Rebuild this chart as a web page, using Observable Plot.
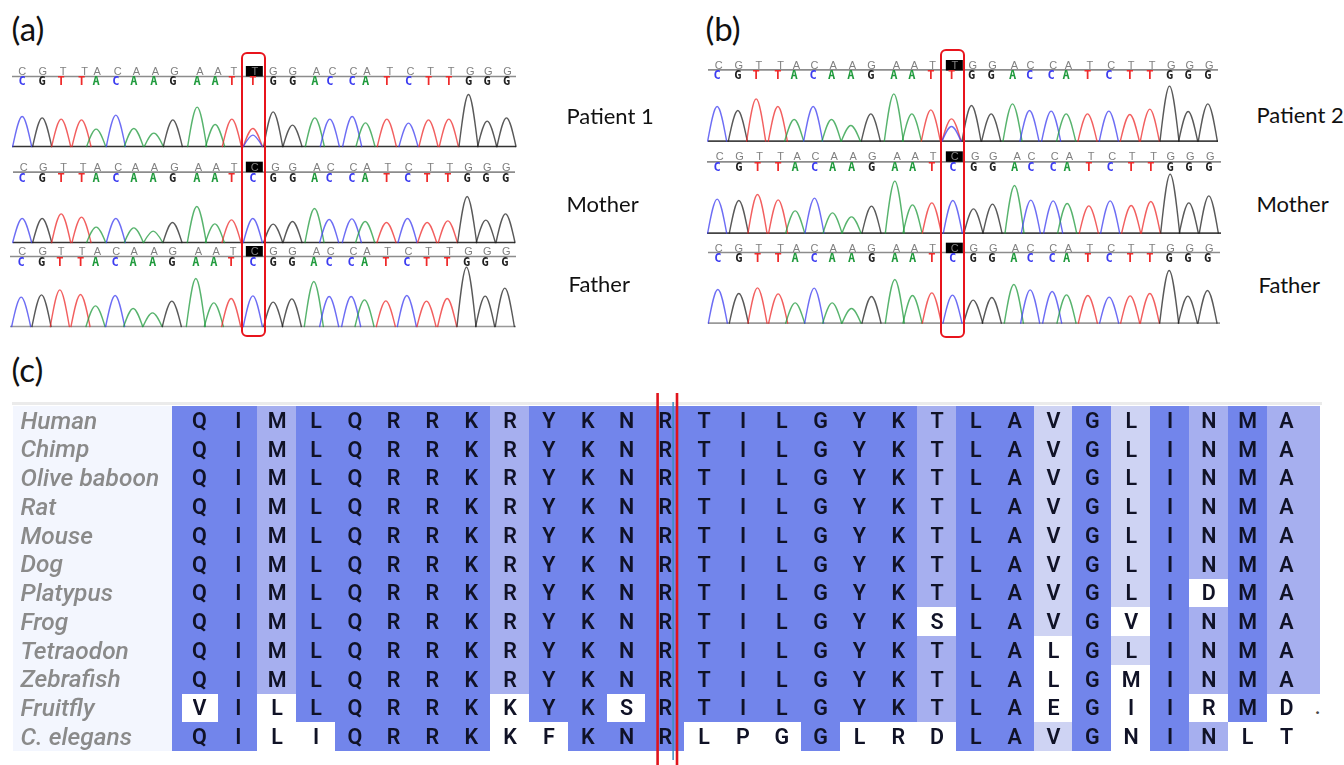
<!DOCTYPE html>
<html><head><meta charset="utf-8">
<script src="https://cdn.jsdelivr.net/npm/d3@7"></script>
<script src="https://cdn.jsdelivr.net/npm/@observablehq/plot@0.6"></script>
<style>html,body{margin:0;background:#fff}svg{display:block}</style>
</head><body><div id="upper"></div><div id="lower"></div>
<script>
// ---- sequencing reads -------------------------------------------------
const basesPatient = "CGTTACAAGAATTGGACCATCTTGGG";
const basesParent  = "CGTTACAAGAATCGGACCATCTTGGG";
const secondaryBase = "C";

// peak readings: position and top of each peak (left half, right half of each read)
const aPatientX = [65,125,182,243,287,346,400,460,517,590,644,694,757, 38,96,163,208,275,315,379,444,504,565,624,680,738];
const aPatientY = [228,232,236,238,266,224,264,278,238,200,252,236,264, 214,254,232,236,228,247,236,248,238,236,162,242,232];
const aPatientGray = [65,127,188,252,290,352,408,465,522,598,652,700,763, 38,97,168,216,279,319,388,450,510,572,629,683,741];
const aMotherX = [65,125,182,243,287,346,400,458,516,589,643,693,757, 38,96,162,206,274,314,378,441,500,562,620,676,735];
const aMotherY = [204,204,190,200,230,204,232,242,216,168,220,208,204, 221,213,174,207,205,213,216,204,216,211,138,209,190];
const aMotherGray = [70,128,189,248,291,353,405,462,522,594,647,701,763, 45,97,169,211,279,319,382,445,510,568,624,680,737];
const aFatherX = [62,123,178,240,285,344,398,456,514,586,640,692,757, 38,94,160,206,272,312,376,439,498,560,618,674,733];
const aFatherY = [440,433,418,432,466,435,474,487,452,384,457,444,436, 455,445,393,438,438,448,451,435,452,444,350,437,413];
const aFatherGray = [65,127,182,245,291,347,401,461,517,594,647,698,763, 39,96,168,211,279,319,381,444,504,567,624,680,737];
const bPatientX = [50,112,167,232,281,338,393,451,511,580,634,691,753, 33,92,156,207,272,317,381,445,508,568,627,683,742];
const bPatientY = [168,180,145,168,207,168,207,225,190,130,190,178,205, 165,190,160,180,182,190,190,182,192,176,107,183,160];
const bPatientGray = [55,115,175,240,288,342,398,456,513,588,642,696,763, 37,96,162,210,278,324,388,452,512,575,632,688,746];
const bMotherX = [50,115,171,233,284,342,396,453,513,583,636,694,757, 39,96,162,211,278,320,385,449,512,571,629,685,745];
const bMotherY = [446,450,432,448,481,443,487,499,467,392,463,457,450, 475,461,405,449,451,459,466,451,465,453,371,457,436];
const bMotherGray = [58,117,177,240,290,345,401,458,515,590,644,698,763, 44,98,170,213,283,327,392,455,515,579,631,689,749];
const bFatherX = [52,115,171,233,284,341,395,453,513,583,636,694,756, 38,94,160,209,275,318,382,446,509,568,626,682,741];
const bFatherY = [717,729,712,730,757,713,757,774,738,687,735,727,734, 749,741,702,718,723,733,735,740,736,729,660,737,720];
const bFatherGray = [55,115,175,240,288,342,398,456,513,588,642,696,763, 40,98,165,210,278,324,388,452,512,575,630,688,746];

const secondaryPeaks = [{read:"aPatient",x:757,y:284},{read:"bPatient",x:753,y:228}];

// [name, bases, x, y, gray, origin x left, origin x right, origin y, baseline, call line, gray row, colour row, line from, line to, baseline ink]
const reads = [
 ["aPatient",basesPatient,aPatientX,aPatientY,aPatientGray,0,260,40,318,108,93,123,12,516,"#333"],
 ["aMother",basesParent,aMotherX,aMotherY,aMotherGray,0,260,150,276,65,50,83,13,515,"#333"],
 ["aFather",basesParent,aFatherX,aFatherY,aFatherGray,0,260,150,528,318,303,336,10,516,"#999"],
 ["bPatient",basesPatient,bPatientX,bPatientY,bPatientGray,700,960,50,272,58,45,75,708,1218,"#444"],
 ["bMother",basesParent,bMotherX,bMotherY,bMotherGray,700,960,50,548,334,319,350,707,1221,"#444"],
 ["bFather",basesParent,bFatherX,bFatherY,bFatherGray,700,960,50,818,606,593,623,708,1220,"#999"]
];
const panelLabels = [["(a)",11,30],["(b)",705,30],["(c)",11,371]];
const readLabels = [["Patient 1",566,116],["Mother",566,204],["Father",568,284],["Patient 2",1256,115],["Mother",1256,204],["Father",1258,285]];
const focusBoxes = [[242,265,53,336],[941,964,50,337]];

// ---- alignment --------------------------------------------------------
const species = ["Human","Chimp","Olive baboon","Rat","Mouse","Dog","Platypus","Frog","Tetraodon","Zebrafish","Fruitfly","C. elegans"];
const residues = [
 "QIMLQRRKRYKNRTILGYKTLAVGLINMA",
 "QIMLQRRKRYKNRTILGYKTLAVGLINMA",
 "QIMLQRRKRYKNRTILGYKTLAVGLINMA",
 "QIMLQRRKRYKNRTILGYKTLAVGLINMA",
 "QIMLQRRKRYKNRTILGYKTLAVGLINMA",
 "QIMLQRRKRYKNRTILGYKTLAVGLINMA",
 "QIMLQRRKRYKNRTILGYKTLAVGLIDMA",
 "QIMLQRRKRYKNRTILGYKSLAVGVINMA",
 "QIMLQRRKRYKNRTILGYKTLALGLINMA",
 "QIMLQRRKRYKNRTILGYKTLALGMINMA",
 "VILLQRRKKYKSRTILGYKTLAEGIIRMD",
 "QILIQRRKKFKNRLPGGLRDLAVGNINLT"
];
const highlightedColumn = 12;

// ---- build tables -----------------------------------------------------
const halfWidth = 9.5;
const peakShape = [], calls = [], grayCalls = [], lines = [], boxes = [];
for (const [name,bases,xs,ys,gray,ox1,ox2,oy,bl,lineY,grayY,colY,from,to,ink] of reads) {
  const px = (v,i) => (i<13?ox1:ox2)+v/3, py = v => oy+v/3;
  bases.split("").forEach((b,i)=>{
    const x = px(xs[i],i);
    peakShape.push({id:name+i,base:b,x:x-halfWidth,y:py(bl)},{id:name+i,base:b,x,y:py(ys[i])},{id:name+i,base:b,x:x+halfWidth,y:py(bl)});
    calls.push({base:b,x:px(xs[i],i),y:py(colY)});
    grayCalls.push({base:b,x:px(gray[i],i),y:py(grayY)});
    if(i===12) boxes.push({x1:px(gray[i],i)-8.5,x2:px(gray[i],i)+8.5,y1:py(grayY)-5,y2:py(grayY)+5.5});
  });
  lines.push({y:py(lineY),x1:from,x2:to,kind:"call"},{y:py(bl),x1:from,x2:to,kind:"base",ink});
  for (const s of secondaryPeaks) if (s.read===name) {
    const x = ox1+s.x/3;
    peakShape.push({id:name+"s",base:secondaryBase,x:x-halfWidth,y:py(bl)},{id:name+"s",base:secondaryBase,x,y:py(s.y)},{id:name+"s",base:secondaryBase,x:x+halfWidth,y:py(bl)});
  }
}
const soft = "blur(0.45px)";
const chartUpper = Plot.plot({
  width:1344,height:392,margin:0,
  x:{domain:[0,1344],range:[0,1344],axis:null},
  y:{domain:[0,392],range:[0,392],axis:null},
  color:{domain:["A","C","G","T"],range:["#1f9a3c","#3c3cf0","#222222","#ee2a2a"]},
  marks:[
    Plot.ruleY(lines.filter(d=>d.kind==="call"),{y:"y",x1:"x1",x2:"x2",stroke:"#8c8c8c",strokeWidth:1.6,imageFilter:soft}),
    Plot.ruleY(lines.filter(d=>d.kind==="base"),{y:"y",x1:"x1",x2:"x2",stroke:"ink",strokeWidth:1.6,imageFilter:soft}),
    Plot.line(peakShape,{x:"x",y:"y",z:"id",stroke:"base",curve:"monotone-x",strokeWidth:1.4,strokeOpacity:0.75,imageFilter:soft}),
    Plot.rect(boxes,{x1:"x1",x2:"x2",y1:"y1",y2:"y2",fill:"black"}),
    Plot.text(grayCalls,{x:"x",y:"y",text:"base",fill:"#808080",fontSize:11,fontFamily:"Liberation Sans",imageFilter:soft}),
    Plot.text(calls,{x:"x",y:"y",text:"base",fill:"base",fontSize:12,fontWeight:"bold",fontFamily:"DejaVu Sans Mono",imageFilter:soft}),
    Plot.rect(focusBoxes,{x1:"0",x2:"1",y1:"2",y2:"3",fill:"none",stroke:"#e8141c",strokeWidth:2,rx:5}),
    Plot.text(panelLabels,{x:"1",y:"2",text:"0",textAnchor:"start",fontSize:33,fontFamily:"Lato",fill:"#111"}),
    Plot.text(readLabels,{x:"1",y:"2",text:"0",textAnchor:"start",fontSize:22,fontFamily:"Lato",fill:"#111"})
  ]
});
document.getElementById("upper").append(chartUpper);

const nCols = residues[0].length;
const cells = [];
residues.forEach((row,r)=>row.split("").forEach((ch,c)=>{
  const count = residues.filter(s=>s[c]===ch).length;
  const level = count>=11?"high":count===10?"mid":count>=8?"low":"none";
  cells.push({species:species[r],col:c,ch,level,
    x1:c-0.5,
    x2:c===nCols-1 && level!=="none" ? c+0.88 : c+0.5});
}));
const leftEdge = species.map(s=>({species:s,x1:-0.695,x2:-0.44}));
const labelBack = species.map(s=>({species:s,x1:-4.8,x2:-0.695}));
const strayDot = [{species:"Fruitfly",x:28.8,t:"."}];

const chartLower = Plot.plot({
  width:1344,height:373,margin:0,
  x:{domain:[-0.5,28.5],range:[179.6,1305.4],axis:null},
  y:{domain:species,range:[14,359],padding:0,round:false,axis:null},
  color:{domain:["high","mid","low","none"],range:["#7285eb","#a6afef","#ced3f3","#ffffff"]},
  marks:[
    Plot.barX(labelBack,{x1:"x1",x2:"x2",y:"species",fill:"#f3f6fe",shapeRendering:"crispEdges"}),
    Plot.barX(leftEdge,{x1:"x1",x2:"x2",y:"species",fill:"#7285eb",shapeRendering:"crispEdges"}),
    Plot.barX(cells.filter(d=>d.level!=="none"),{x1:"x1",x2:"x2",y:"species",fill:"level",shapeRendering:"crispEdges"}),
    Plot.barX(cells.filter(d=>d.col===0&&d.level==="none"),{x1:-0.44,x2:0.5,y:"species",fill:"#ffffff",shapeRendering:"crispEdges"}),
    Plot.frame({anchor:"top",stroke:"#ebebeb",strokeWidth:3,insetTop:11,insetLeft:13,insetRight:24}),
    Plot.text(species,{y:d=>d,frameAnchor:"left",dx:20,textAnchor:"start",text:d=>d,fontStyle:"italic",fontWeight:500,fontSize:24.5,fontFamily:"Roboto",fill:"#8a8a8a",imageFilter:soft}),
    Plot.text(cells,{x:"col",y:"species",text:"ch",fontSize:21.5,fontWeight:600,fontFamily:"Roboto",fill:"#101226",imageFilter:"blur(0.3px)"}),
    Plot.text(strayDot,{x:"x",y:"species",text:"t",fontSize:18,fontWeight:700,fontFamily:"Roboto",fill:"#444"}),
    Plot.ruleX([highlightedColumn+0.2],{stroke:"#3a8fc0",strokeWidth:1.5,insetTop:10,insetBottom:5}),
    Plot.ruleX([highlightedColumn-0.2,highlightedColumn+0.3],{stroke:"#e0141c",strokeWidth:2.6,insetTop:1})
  ]
});
document.getElementById("lower").append(chartLower);
</script></body></html>
